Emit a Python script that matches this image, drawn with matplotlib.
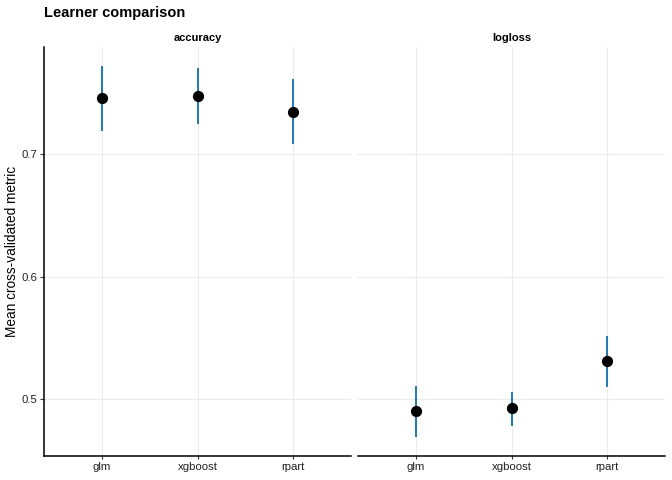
import numpy as np
from matplotlib import pyplot as plt

plt.rcParams['font.family'] = ['Liberation Sans', 'DejaVu Sans']

learners = ['glm', 'xgboost', 'rpart']
metrics = ['accuracy', 'logloss']

# mean and interval per metric, in learner order
acc_mean = [0.7459, 0.7475, 0.7344]
acc_lo = [0.719, 0.7246, 0.708]
acc_hi = [0.772, 0.770, 0.7607]

ll_mean = [0.4902, 0.4926, 0.531]
ll_lo = [0.469, 0.478, 0.5098]
ll_hi = [0.5107, 0.5057, 0.5516]

means = [acc_mean, ll_mean]
lows = [acc_lo, ll_lo]
highs = [acc_hi, ll_hi]

all_vals = acc_lo + acc_hi + ll_lo + ll_hi
vmin, vmax = min(all_vals), max(all_vals)
pad = (vmax - vmin) * 0.05

fig = plt.figure(figsize=(6.72, 4.8), dpi=100)
W, H = 672, 480
panels = [(44, 351), (358, 665)]
top, bottom = 47, 456

x = np.arange(len(learners))
for i, (x0, x1) in enumerate(panels):
    ax = fig.add_axes([x0 / W, (H - bottom) / H, (x1 - x0) / W, (bottom - top) / H])
    ax.vlines(x, lows[i], highs[i], color='#1F78B4', lw=1.4, zorder=3)
    ax.scatter(x, means[i], s=50, color='black', zorder=4)
    ax.set_xlim(-0.6, len(learners) - 0.4)
    ax.set_ylim(vmin - pad, vmax + pad)
    ax.set_yticks([0.5, 0.6, 0.7])
    ax.set_xticks(x)
    ax.set_xticklabels(learners)
    ax.grid(True, color='#EBEBEB', lw=0.8)
    ax.set_axisbelow(True)
    for s in ['top', 'right']:
        ax.spines[s].set_visible(False)
    ax.spines['bottom'].set_linewidth(1.1)
    ax.spines['left'].set_linewidth(1.1)
    ax.tick_params(labelsize=8.2, length=3, width=0.8, pad=2, colors='#333333', labelcolor='#222222')
    ax.tick_params(axis='x', length=2)
    if i == 0:
        ax.set_ylabel('Mean cross-validated metric', fontsize=9.8)
        ax.yaxis.set_label_coords(-0.08, 0.5)
    else:
        ax.spines['left'].set_visible(False)
        ax.tick_params(axis='y', left=False, labelleft=False)
    ax.set_title(metrics[i], fontsize=8, fontweight='bold', pad=4)

fig.text(44 / W, 1 - 13 / H, 'Learner comparison', fontsize=10.5, fontweight='bold', va='center', ha='left')

plt.savefig('out.png', dpi=100)
